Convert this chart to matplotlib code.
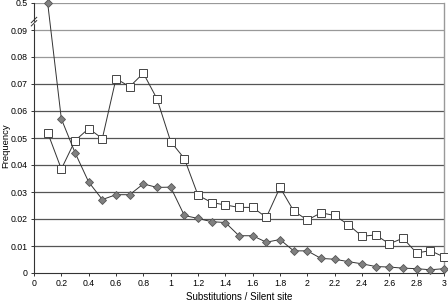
import matplotlib
matplotlib.use("Agg")
import matplotlib.pyplot as plt

plt.rcParams['font.family'] = ['Liberation Sans', 'DejaVu Sans']

# substitutions per silent site (bin centres)
x_vals = [0.1, 0.2, 0.3, 0.4, 0.5, 0.6, 0.7, 0.8, 0.9, 1.0,
          1.1, 1.2, 1.3, 1.4, 1.5, 1.6, 1.7, 1.8, 1.9, 2.0,
          2.1, 2.2, 2.3, 2.4, 2.5, 2.6, 2.7, 2.8, 2.9, 3.0]

squares = [0.052, 0.0385, 0.049, 0.0535, 0.0498, 0.072, 0.069, 0.074, 0.0645, 0.0487,
           0.0424, 0.0288, 0.0261, 0.0252, 0.0243, 0.0243, 0.0206, 0.0317, 0.023, 0.0196,
           0.0223, 0.0213, 0.0179, 0.0136, 0.0141, 0.0108, 0.0129, 0.0074, 0.0083, 0.0059]

diamonds = [0.5, 0.0571, 0.0446, 0.0337, 0.0272, 0.029, 0.029, 0.033, 0.0317, 0.0318,
            0.0213, 0.0202, 0.019, 0.0187, 0.0138, 0.0138, 0.0114, 0.0124, 0.0082, 0.0082,
            0.0054, 0.0051, 0.0042, 0.0034, 0.0024, 0.0022, 0.0018, 0.0016, 0.0012, 0.0016]

y_ticks = [0, 0.01, 0.02, 0.03, 0.04, 0.05, 0.06, 0.07, 0.08, 0.09, 0.1]
y_labels = ['0', '0.01', '0.02', '0.03', '0.04', '0.05', '0.06', '0.07', '0.08', '0.09', '0.5']
x_ticks = [0, 0.2, 0.4, 0.6, 0.8, 1, 1.2, 1.4, 1.6, 1.8, 2, 2.2, 2.4, 2.6, 2.8, 3]

# broken axis: anything above 0.1 is drawn at the top (0.1) slot, labelled 0.5
def squash(v):
    return 0.1 if v > 0.1 else v
diamonds_plot = [squash(v) for v in diamonds]

fig = plt.figure(figsize=(4.48, 3.04), dpi=100)
ax = fig.add_axes([34/448, 31/304, 410/448, 270/304])

for yt in y_ticks[1:]:
    ax.axhline(yt, color='#555555' if yt < 0.075 else '#999999', lw=0.9, zorder=1)

ax.plot(x_vals, squares, color='#333333', lw=0.7, marker='s', ms=5.5,
        mfc='white', mec='#444444', mew=0.7, zorder=3, clip_on=False)
ax.plot(x_vals, diamonds_plot, color='#333333', lw=0.7, marker='D', ms=3.6,
        mfc='#808080', mec='#555555', mew=0.6, zorder=3, clip_on=False)

ax.set_xlim(0, 3)
ax.set_ylim(0, 0.1)
ax.set_xticks(x_ticks)
ax.set_xticklabels([('%g' % t) for t in x_ticks])
ax.set_yticks(y_ticks)
ax.set_yticklabels(y_labels)
ax.tick_params(labelsize=6.3, length=2.5, width=0.7, color='#333333', pad=2)

ax.spines['top'].set_visible(False)
ax.spines['right'].set_color('#999999')
ax.spines['right'].set_linewidth(1.0)
ax.spines['left'].set_color('#333333')
ax.spines['bottom'].set_color('#333333')
ax.spines['left'].set_linewidth(0.8)
ax.spines['bottom'].set_linewidth(0.8)

# break mark on the y axis
for dy in (0.0, 0.0012):
    ax.plot([-0.02, 0.02], [0.0915 + dy, 0.0935 + dy], color='#333333', lw=0.7,
            clip_on=False, zorder=5)
ax.add_patch(plt.Rectangle((-0.01, 0.0925), 0.02, 0.0006, color='white', zorder=4, clip_on=False))

ax.set_xlabel('Substitutions / Silent site', fontsize=7, labelpad=3)
ax.set_ylabel('Frequency', fontsize=6.8)
ax.yaxis.set_label_coords(-0.058, 0.47)

fig.savefig('out.png', dpi=100)
